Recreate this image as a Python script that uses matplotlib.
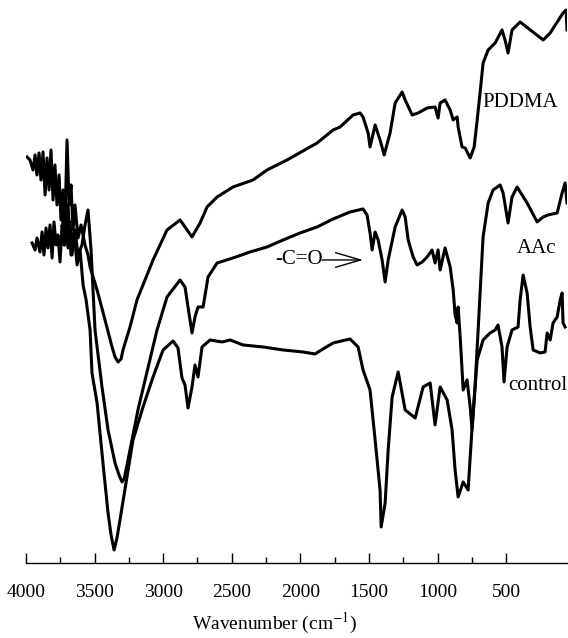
import matplotlib
matplotlib.use("Agg")
import matplotlib.pyplot as plt
from matplotlib.ticker import FixedLocator

plt.rcParams["font.family"] = ["Liberation Serif", "DejaVu Serif"]
plt.rcParams["mathtext.fontset"] = "stix"

# FTIR spectra, transmittance in arbitrary units (traces are offset)
pddma_wn = [3993, 3971, 3949, 3934, 3920, 3905, 3891, 3876, 3861, 3847, 3832, 3818,
            3803, 3789, 3774, 3759, 3745, 3730, 3716, 3701, 3686, 3672, 3657, 3643,
            3621, 3599, 3570, 3548, 3533, 3482, 3424, 3373, 3351, 3329, 3307, 3293,
            3242, 3191, 3074, 2972, 2877, 2841, 2790, 2731, 2680, 2607, 2491, 2345,
            2243, 2097, 1878, 1761, 1710, 1616, 1565, 1543, 1506, 1492, 1455, 1419,
            1389, 1346, 1309, 1258, 1236, 1185, 1141, 1076, 1018, 996, 981, 945, 908,
            886, 857, 850, 821, 799, 762, 733, 711, 690, 668, 631, 580, 530, 508, 486,
            457, 398, 230, 179, 85, 63, 56]
pddma_t = [406, 403, 393, 408, 388, 410, 383, 411, 368, 405, 373, 413, 363, 398, 358,
           388, 343, 373, 338, 423, 358, 378, 333, 358, 325, 338, 318, 308, 296, 273,
           243, 216, 206, 201, 204, 213, 236, 263, 303, 333, 343, 336, 326, 340, 356,
           366, 376, 383, 393, 403, 420, 433, 436, 448, 450, 446, 430, 416, 438, 423,
           408, 430, 460, 471, 463, 448, 450, 455, 456, 445, 460, 463, 453, 443, 446,
           436, 416, 415, 405, 416, 443, 470, 500, 513, 520, 533, 523, 510, 533, 541,
           523, 530, 550, 553, 533]

aac_wn = [3956, 3934, 3920, 3898, 3883, 3869, 3854, 3840, 3825, 3810, 3796, 3781,
          3767, 3752, 3737, 3723, 3708, 3694, 3679, 3665, 3643, 3621, 3592, 3570,
          3548, 3526, 3497, 3446, 3402, 3351, 3322, 3300, 3285, 3271, 3242, 3184,
          3132, 3045, 2972, 2877, 2841, 2819, 2790, 2768, 2746, 2709, 2673, 2607,
          2491, 2367, 2243, 2126, 2002, 1878, 1761, 1638, 1543, 1514, 1492, 1477,
          1455, 1433, 1404, 1382, 1360, 1309, 1258, 1236, 1214, 1178, 1149, 1112,
          1076, 1040, 1018, 996, 981, 945, 908, 886, 872, 857, 850, 835, 813, 785,
          762, 748, 726, 704, 690, 668, 631, 595, 544, 522, 486, 457, 420, 347, 274,
          230, 194, 128, 92, 70, 56]
aac_t = [320, 313, 325, 311, 331, 308, 335, 315, 338, 305, 341, 318, 328, 301, 338,
         318, 348, 315, 341, 308, 333, 308, 318, 338, 353, 313, 233, 176, 133, 100,
         88, 81, 84, 93, 113, 153, 183, 233, 266, 283, 276, 256, 230, 246, 256, 256,
         286, 300, 305, 311, 316, 323, 330, 336, 344, 351, 354, 348, 330, 313, 331,
         323, 303, 281, 303, 336, 353, 346, 323, 306, 298, 301, 306, 313, 300, 313,
         293, 315, 296, 273, 248, 240, 256, 226, 173, 183, 156, 133, 178, 233, 270,
         326, 360, 373, 378, 370, 340, 366, 376, 360, 341, 346, 348, 350, 370, 380,
         360]

control_wn = [3737, 3716, 3694, 3672, 3650, 3628, 3606, 3584, 3562, 3533, 3519, 3482,
              3439, 3402, 3380, 3358, 3337, 3315, 3264, 3220, 3147, 3074, 3001, 2928,
              2892, 2863, 2841, 2819, 2790, 2768, 2746, 2717, 2658, 2571, 2512, 2418,
              2272, 2126, 1981, 1893, 1835, 1761, 1638, 1579, 1543, 1492, 1455, 1419,
              1411, 1382, 1360, 1331, 1287, 1236, 1163, 1105, 1054, 1018, 981, 930,
              894, 872, 850, 813, 777, 748, 711, 668, 617, 580, 559, 530, 515, 493,
              457, 413, 398, 376, 347, 325, 303, 252, 216, 201, 179, 158, 128, 106, 92,
              85, 70]
control_t = [348, 318, 358, 308, 333, 298, 313, 278, 263, 233, 190, 160, 100, 50, 28,
             13, 25, 43, 86, 123, 156, 186, 213, 222, 215, 185, 178, 155, 176, 198, 186,
             216, 223, 221, 223, 218, 216, 213, 211, 209, 214, 220, 224, 216, 193, 173,
             123, 73, 36, 60, 113, 166, 191, 153, 145, 176, 180, 138, 176, 163, 133, 93,
             66, 81, 73, 136, 203, 223, 230, 233, 238, 216, 181, 216, 233, 236, 263,
             288, 270, 236, 213, 210, 211, 230, 223, 240, 246, 263, 270, 240, 236]

major_ticks = [4000, 3500, 3000, 2500, 2000, 1500, 1000, 500]
minor_ticks = [3750, 3250, 2750, 2250, 1750, 1250, 750]

fig = plt.figure(figsize=(5.68, 6.38), dpi=100)
ax = fig.add_axes([0.0458, 0.1176, 0.9525, 0.8746])

for wn, t in [(pddma_wn, pddma_t), (aac_wn, aac_t), (control_wn, control_t)]:
    ax.plot(wn, t, color="black", lw=2.2, solid_joinstyle="round")

ax.set_xlim(4000, 56)
ax.set_ylim(0, 558)

ax.text(675, 460, "PDDMA", fontsize=15, ha="left", va="center")
ax.text(420, 314, "AAc", fontsize=15, ha="left", va="center")
ax.text(486, 177, "control", fontsize=15, ha="left", va="center")
ax.text(2185, 303, "-C=O", fontsize=15, ha="left", va="center")
ax.annotate("", xy=(1543, 303), xytext=(1842, 303),
            arrowprops=dict(arrowstyle="->,head_length=1.2,head_width=0.35",
                            lw=1.0, color="black", shrinkA=0, shrinkB=0),
            fontsize=15)

for side in ["top", "left", "right"]:
    ax.spines[side].set_visible(False)
ax.spines["bottom"].set_linewidth(1.0)
ax.set_yticks([])
ax.xaxis.set_major_locator(FixedLocator(major_ticks))
ax.xaxis.set_minor_locator(FixedLocator(minor_ticks))
ax.tick_params(axis="x", which="major", direction="in", length=7, width=1.0,
               labelsize=14, pad=15)
ax.tick_params(axis="x", which="minor", direction="in", length=4, width=1.0)

fig.text(0.484, 0.014, "Wavenumber (cm$^{-1}$)", fontsize=14, ha="center",
         va="baseline")

fig.savefig("out.png", dpi=100)
